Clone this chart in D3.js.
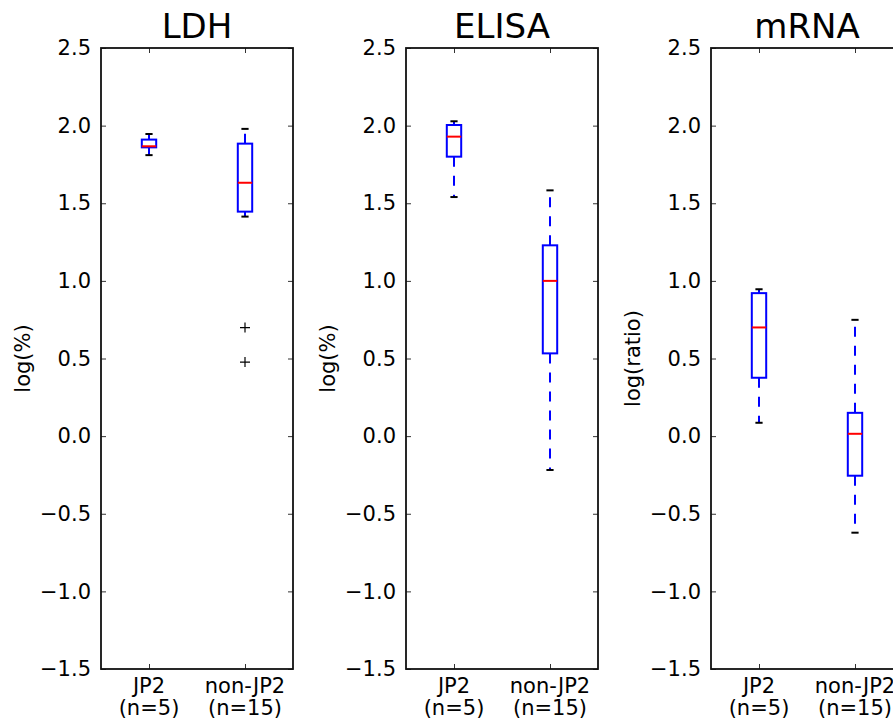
<!DOCTYPE html>
<html>
<head>
<meta charset="utf-8">
<script src="https://cdn.jsdelivr.net/npm/d3@7"></script>
<style>
  body { margin: 0; background: #fff; }
  svg { display: block; font-family: "DejaVu Sans", sans-serif; }
</style>
</head>
<body>
<svg width="893" height="722"></svg>
<script>
//Chart data
var panelTitles = ["LDH", "ELISA", "mRNA"];
var yLabels = ["log(%)", "log(%)", "log(ratio)"];
var groups = ["JP2", "non-JP2"];
var groupN = ["(n=5)", "(n=15)"];
var yTicks = [-1.5, -1.0, -0.5, 0.0, 0.5, 1.0, 1.5, 2.0, 2.5];

//Box stats per group: [lower whisker, q1, median, q3, upper whisker]
var ldhStats = [[1.81, 1.86, 1.867, 1.91, 1.946], [1.414, 1.446, 1.632, 1.884, 1.979]];
var elisaStats = [[1.54, 1.80, 1.929, 2.004, 2.028], [-0.218, 0.533, 1.0, 1.229, 1.583]];
var mrnaStats = [[0.086, 0.376, 0.70, 0.921, 0.946], [-0.622, -0.255, 0.015, 0.150, 0.749]];

//Outliers per group
var ldhOutliers = [[], [0.699, 0.477]];
var elisaOutliers = [[], []];
var mrnaOutliers = [[], []];

var panelStats = [ldhStats, elisaStats, mrnaStats];
var panelOutliers = [ldhOutliers, elisaOutliers, mrnaOutliers];

//Layout
var panelLeft = 101, panelGap = 305, panelWidth = 192;
var plotTop = 48, plotBottom = 669;

var svg = d3.select("svg");

var y = d3.scaleLinear().domain([-1.5, 2.5]).range([plotBottom, plotTop]);
var x = d3.scaleLinear().domain([0.5, 2.5]).range([0, panelWidth]);
var boxW = x(1.15) - x(1);  //box is 0.15 wide in data units

panelTitles.forEach(function(title, p) {
  var g = svg.append("g").attr("transform", "translate(" + (panelLeft + p * panelGap) + ",0)");

  //Left axis with labels, ticks drawn inward
  var left = g.append("g").call(d3.axisLeft(y).tickValues(yTicks).tickSize(-5).tickPadding(10)
    .tickFormat(function(d) { return d3.format(".1f")(d).replace("-", "\u2212"); }));
  var right = g.append("g").attr("transform", "translate(" + panelWidth + ",0)")
    .call(d3.axisRight(y).tickValues(yTicks).tickSize(-5).tickFormat(""));
  var xb = g.append("g").attr("transform", "translate(0," + plotBottom + ")")
    .call(d3.axisBottom(x).tickValues([1, 2]).tickSize(-5).tickFormat(""));
  var xt = g.append("g").attr("transform", "translate(0," + plotTop + ")")
    .call(d3.axisTop(x).tickValues([1, 2]).tickSize(-5).tickFormat(""));

  [left, right, xb, xt].forEach(function(a) {
    a.select(".domain").remove();
    a.selectAll("line").attr("stroke", "#333").attr("stroke-width", 1);
    a.selectAll("text").attr("font-size", 21).attr("fill", "#000")
      .attr("font-family", "DejaVu Sans, sans-serif");
  });

  //Frame
  g.append("rect").attr("x", 0).attr("y", plotTop).attr("width", panelWidth).attr("height", plotBottom - plotTop)
    .attr("fill", "none").attr("stroke", "#111").attr("stroke-width", 1.8);

  //Title
  g.append("text").attr("x", panelWidth / 2).attr("y", 38).attr("text-anchor", "middle")
    .attr("font-size", 34).text(title);

  //Y label
  g.append("text").attr("transform", "translate(-71," + (plotTop + plotBottom) / 2 + ") rotate(-90)")
    .attr("text-anchor", "middle").attr("font-size", 21).text(yLabels[p]);

  //Category labels (two lines)
  groups.forEach(function(name, i) {
    var t = g.append("text").attr("x", x(i + 1)).attr("y", 693).attr("text-anchor", "middle")
      .attr("font-size", 21);
    t.append("tspan").attr("x", x(i + 1)).text(name);
    t.append("tspan").attr("x", x(i + 1)).attr("dy", 22).text(groupN[i]);
  });

  //Boxes
  panelStats[p].forEach(function(s, i) {
    var cx = x(i + 1);
    //Whiskers, dashed from box edge outwards
    g.append("line").attr("x1", cx).attr("x2", cx).attr("y1", y(s[1])).attr("y2", y(s[0]))
      .attr("stroke", "blue").attr("stroke-width", 2).attr("stroke-dasharray", "10,9");
    g.append("line").attr("x1", cx).attr("x2", cx).attr("y1", y(s[3])).attr("y2", y(s[4]))
      .attr("stroke", "blue").attr("stroke-width", 2).attr("stroke-dasharray", "10,9");
    //Caps
    [s[0], s[4]].forEach(function(v) {
      g.append("line").attr("x1", cx - boxW / 4).attr("x2", cx + boxW / 4).attr("y1", y(v)).attr("y2", y(v))
        .attr("stroke", "#000").attr("stroke-width", 2);
    });
    //Box
    g.append("rect").attr("x", cx - boxW / 2).attr("y", y(s[3])).attr("width", boxW)
      .attr("height", y(s[1]) - y(s[3])).attr("fill", "none").attr("stroke", "blue").attr("stroke-width", 2);
    //Median
    g.append("line").attr("x1", cx - boxW / 2).attr("x2", cx + boxW / 2).attr("y1", y(s[2])).attr("y2", y(s[2]))
      .attr("stroke", "red").attr("stroke-width", 2);
    //Outliers as + marks
    panelOutliers[p][i].forEach(function(v) {
      g.append("path").attr("d", "M" + (cx - 5) + "," + y(v) + "h10M" + cx + "," + (y(v) - 5) + "v10")
        .attr("stroke", "#000").attr("stroke-width", 1.2);
    });
  });
});
</script>
</body>
</html>
